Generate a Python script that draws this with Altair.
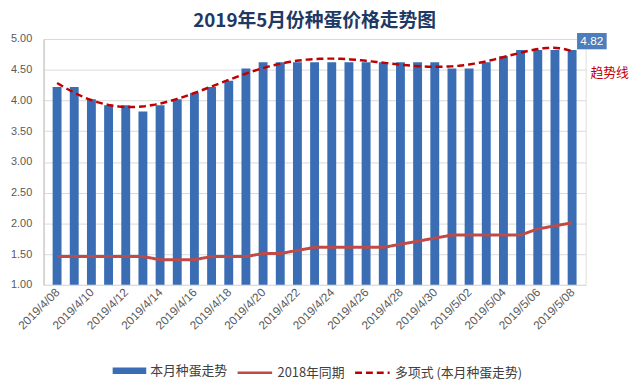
import altair as alt
import pandas as pd

dates = ["2019/4/08", "2019/4/09", "2019/4/10", "2019/4/11", "2019/4/12", "2019/4/13",
         "2019/4/14", "2019/4/15", "2019/4/16", "2019/4/17", "2019/4/18", "2019/4/19",
         "2019/4/20", "2019/4/21", "2019/4/22", "2019/4/23", "2019/4/24", "2019/4/25",
         "2019/4/26", "2019/4/27", "2019/4/28", "2019/4/29", "2019/4/30", "2019/5/01",
         "2019/5/02", "2019/5/03", "2019/5/04", "2019/5/05", "2019/5/06", "2019/5/07",
         "2019/5/08"]
price_2019 = [4.22, 4.22, 4.02, 3.92, 3.92, 3.82, 3.92, 4.02, 4.12, 4.22, 4.32, 4.52,
              4.62, 4.62, 4.62, 4.62, 4.62, 4.62, 4.62, 4.62, 4.62, 4.62, 4.62, 4.52,
              4.52, 4.62, 4.72, 4.82, 4.82, 4.82, 4.82]
price_2018 = [1.46, 1.46, 1.46, 1.46, 1.46, 1.46, 1.41, 1.41, 1.41, 1.46, 1.46, 1.46,
              1.51, 1.51, 1.56, 1.61, 1.61, 1.61, 1.61, 1.61, 1.66, 1.71, 1.76, 1.81,
              1.81, 1.81, 1.81, 1.81, 1.91, 1.96, 2.01]
bar_name = "本月种蛋走势"
line_names = ["2018年同期", "多项式 (本月种蛋走势)"]
bar_color = "#3A6DB3"
line_colors = ["#BE4B48", "#C00000"]
line_dash = [[1, 0], [7, 4]]
title_text = "2019年5月份种蛋价格走势图"
trend_label = "趋势线"

n = len(dates)
df = pd.DataFrame({
    "i": list(range(n)),
    "date": dates,
    "price": price_2019,
    "p2018": price_2018,
})

label_expr = "[" + ",".join("'" + d + "'" for d in dates) + "][datum.value]"

x_scale = alt.Scale(domain=[-0.5, n - 0.5], nice=False, zero=False)
x_axis = alt.Axis(
    values=list(range(0, n, 2)), labelExpr=label_expr, title=None,
    labelAngle=315, labelAlign="right", labelBaseline="middle",
    labelFontSize=12, labelColor="#595959", labelFont="Liberation Sans",
    ticks=False, labelPadding=5, grid=False, domain=False, labelOverlap=False,
)
y_scale = alt.Scale(domain=[1, 5], nice=False, zero=False)
y_axis = alt.Axis(
    values=[1, 1.5, 2, 2.5, 3, 3.5, 4, 4.5, 5], format=".2f", title=None,
    labelFontSize=11, labelColor="#595959", labelFont="Liberation Sans",
    ticks=False, labelPadding=12, gridColor="#D9D9D9", domainColor="#BFBFBF",
    labelOverlap=False,
)


def x_enc():
    return alt.X("i:Q", scale=x_scale, axis=x_axis)


def y_enc(field):
    return alt.Y(field, scale=y_scale, axis=y_axis)


common_legend = dict(
    title=None, labelFontSize=13, labelColor="#404040",
    labelFont="Noto Sans CJK SC", labelOffset=4, orient="none", legendY=319,
)
bar_legend = alt.Legend(
    legendX=70, symbolType="M-1,-0.2H1V0.2H-1Z", symbolSize=1156,
    symbolStrokeWidth=0, **common_legend,
)
line_legend = alt.Legend(
    legendX=195, direction="horizontal", symbolType="stroke", symbolSize=1225,
    symbolStrokeWidth=2.5, columnPadding=5, **common_legend,
)

base = alt.Chart(df)

bars = base.transform_calculate(bar_series="'" + bar_name + "'").mark_bar(width=9).encode(
    x=x_enc(),
    y=y_enc("price:Q"),
    y2=alt.datum(1),
    fill=alt.Fill("bar_series:N", scale=alt.Scale(domain=[bar_name], range=[bar_color]),
                  legend=bar_legend),
)

stroke_scale = alt.Scale(domain=line_names, range=line_colors)
dash_scale = alt.Scale(domain=line_names, range=line_dash)

line2018 = base.transform_calculate(series="'" + line_names[0] + "'").mark_line(
    strokeWidth=3
).encode(
    x=x_enc(),
    y=y_enc("p2018:Q"),
    stroke=alt.Stroke("series:N", scale=stroke_scale, legend=line_legend),
    strokeDash=alt.StrokeDash("series:N", scale=dash_scale, legend=line_legend),
)

trend = base.transform_regression("i", "price", method="poly", order=6).transform_calculate(
    series="'" + line_names[1] + "'"
).mark_line(strokeWidth=2.5).encode(
    x=x_enc(),
    y=y_enc("price:Q"),
    stroke=alt.Stroke("series:N", scale=stroke_scale, legend=line_legend),
    strokeDash=alt.StrokeDash("series:N", scale=dash_scale, legend=line_legend),
)

last = base.transform_filter(alt.datum.i == n - 1)
box = last.mark_point(
    shape="M-1,-0.55H1V0.55H-1Z", size=900, filled=True, opacity=1,
    color="#4E7DBB", xOffset=20, yOffset=-9,
).encode(x=x_enc(), y=y_enc("price:Q"))
box_text = last.mark_text(
    color="white", fontSize=12, font="Liberation Sans", xOffset=20, yOffset=-9,
).encode(x=x_enc(), y=y_enc("price:Q"), text=alt.Text("price:Q", format=".2f"))
trend_text = last.mark_text(
    text=trend_label, color="#C00000", fontSize=13, font="Noto Sans CJK SC",
    xOffset=38, yOffset=23,
).encode(x=x_enc(), y=y_enc("price:Q"))

chart = alt.layer(bars, line2018, trend, box, box_text, trend_text).properties(
    width=549, height=249,
    padding={"left": 36, "top": 29, "right": 51, "bottom": 95},
    autosize=alt.AutoSizeParams(type="none"),
    title=alt.TitleParams(
        title_text, fontSize=19, font="Noto Sans CJK SC", fontWeight="bold",
        color="#203864", anchor="middle", offset=2,
    ),
).configure_view(stroke=None).configure(background="white")

chart.save("out.html", embed_options={"renderer": "svg", "actions": False})
